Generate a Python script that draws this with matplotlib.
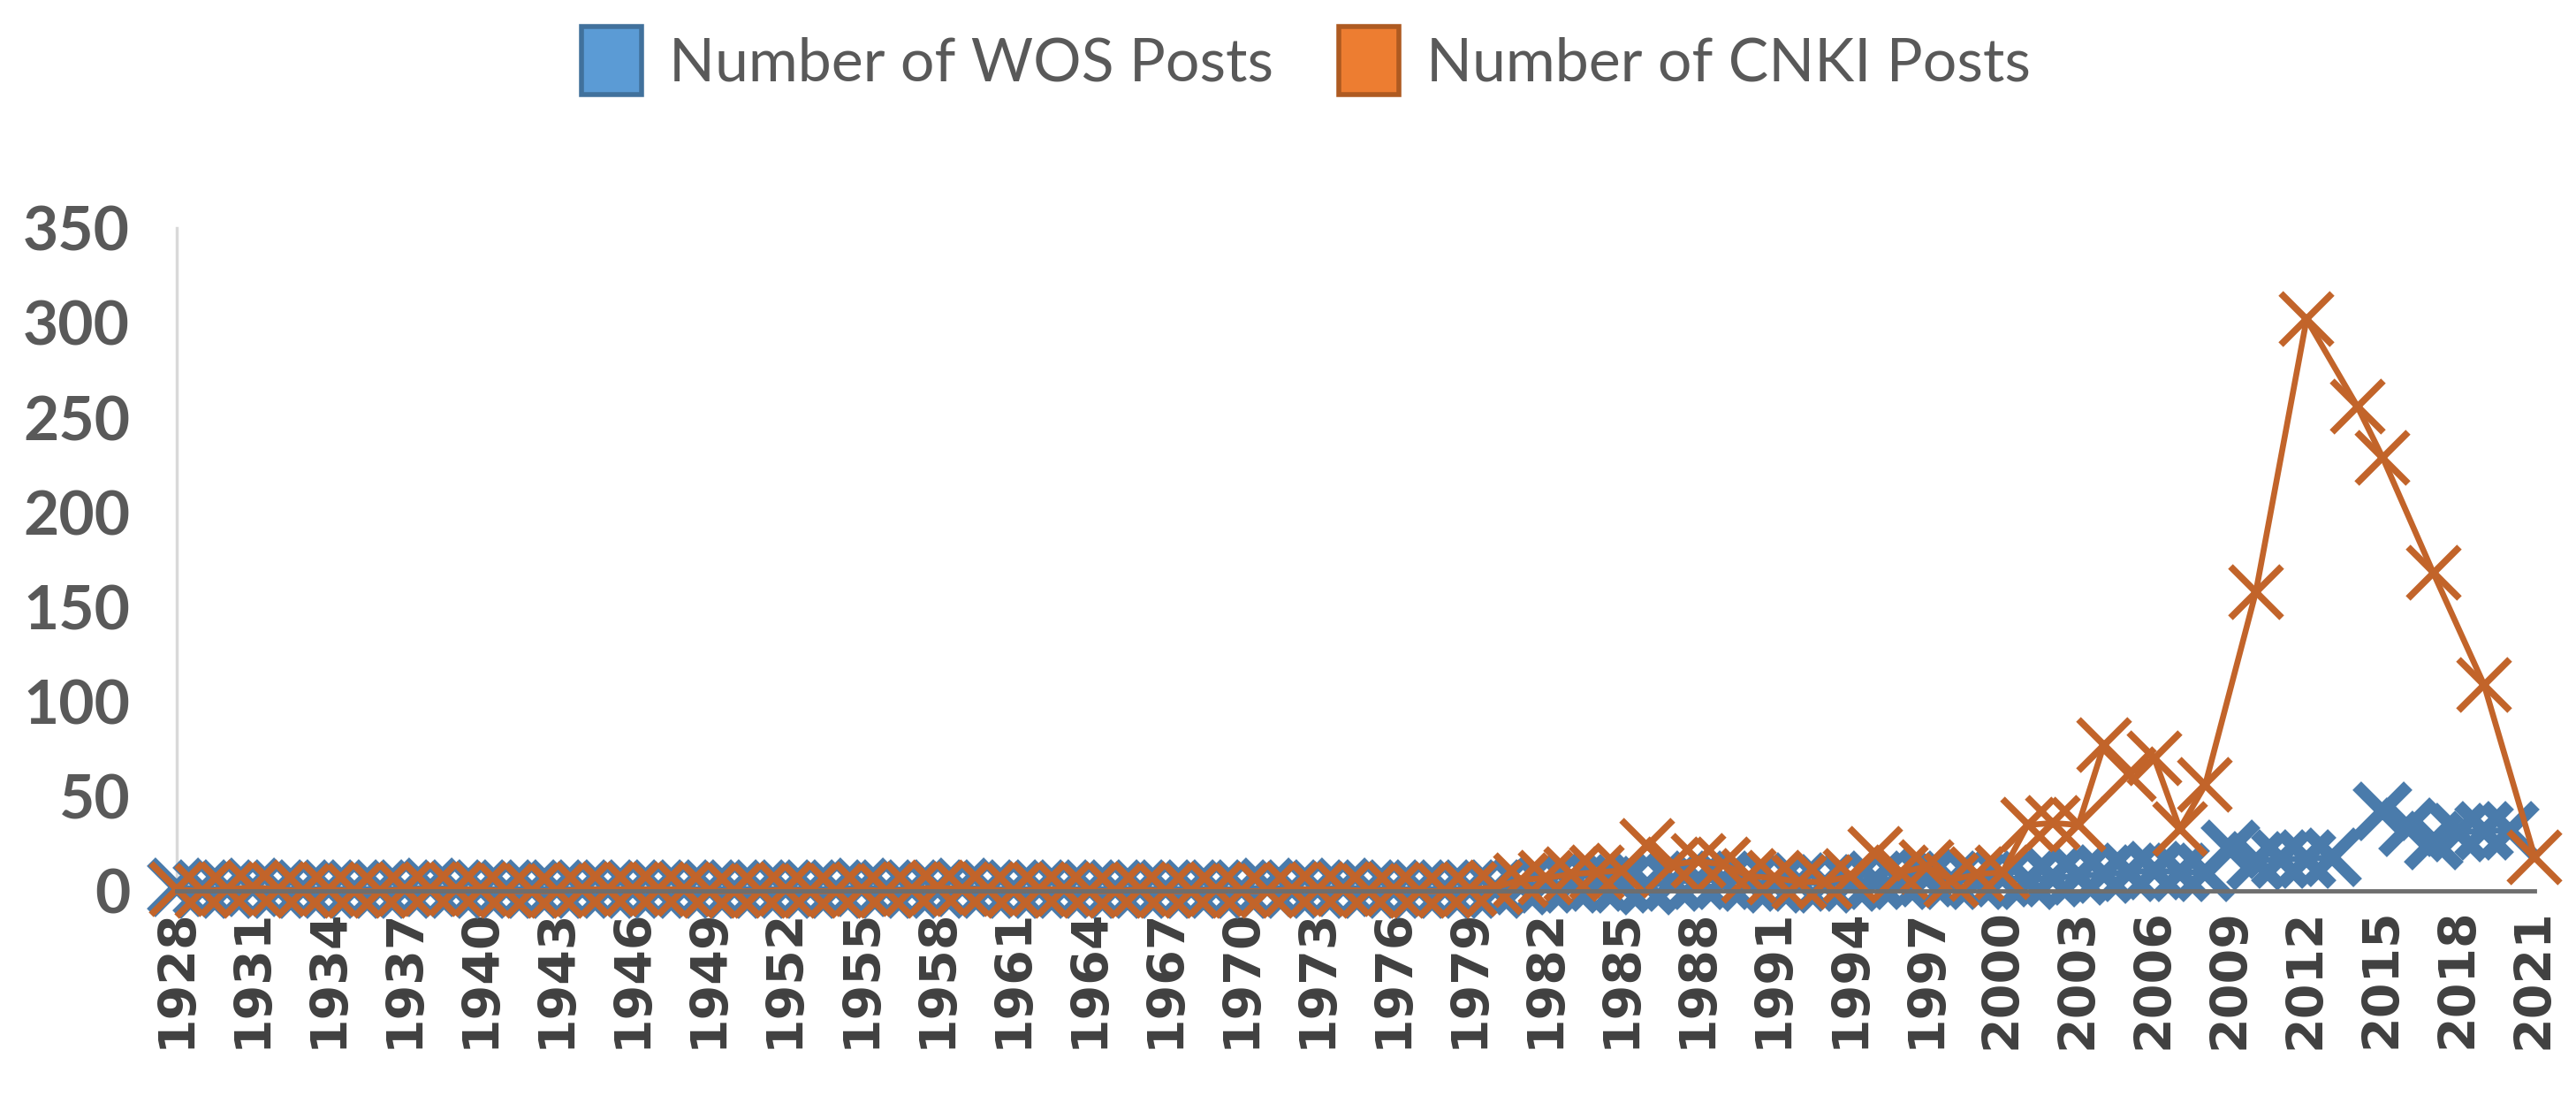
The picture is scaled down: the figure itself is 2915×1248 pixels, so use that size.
import matplotlib
matplotlib.use("Agg")
import matplotlib.pyplot as plt
from matplotlib.patches import Patch

# categories (one per year) and the two series, None = no value that year
years = list(range(1928, 2022))

wos_posts = [
    2, 1, 1, 2, 1, 1, 1, 1, 1, 1,          # 1928-1937
    2, 1, 1, 1, 1, 1, 1, 1, 1, 1,          # 1938-1947
    1, 1, 1, 1, 1, 1, 1, 2, 1, 1,          # 1948-1957
    1, 2, 1, 1, 1, 1, 1, 1, 1, 1,          # 1958-1967
    1, 1, 1, 2, 1, 1, 2, 1, 1, 1,          # 1968-1977
    1, 1, 1,                               # 1978-1980
    3, 4, 4, 5, 4, 3, 5, 6, 6, 5,          # 1981-1990
    4, 5, 4, 5, 6, 6, 7, 6, 6, 7,          # 1991-2000
    6, 7, 8, 9, 10, 11, 10, 10,            # 2001-2008
    22, 16, 17, 17, 18, None, 42, 34, 27, 31, 32, 32, None,  # 2009-2021
]

cnki_posts = [
    1, 0, 1, 2, 1, 0, 1, 0, 0, 1,          # 1928-1937
    1, 1, 1, 0, 0, 0, 1, 1, 1, 1,          # 1938-1947
    1, 0, 0, 0, 1, 0, 0, 1, 0, 1,          # 1948-1957
    2, 1, 1, 0, 1, 1, 0, 0, 1, 0,          # 1958-1967
    0, 1, 0, 0, 1, 1, 1, 0, 1, 0,          # 1968-1977
    0, 1, 2,                               # 1978-1980
    6, 7, 9, 10, 11, 24, 14, 16, 14, 8,    # 1981-1990
    7, 5, 5, 8, 20, 10, 13, 6, 9, 10,      # 1991-2000
    35, 36, 35, 77, 62, 70, 33, 56,        # 2001-2008
    None, 158, None, 302, None, 256, 229, None, 168, None, 109, None, 18,  # 2009-2021
]

series_names = ["Number of WOS Posts", "Number of CNKI Posts"]
y_ticks = [0, 50, 100, 150, 200, 250, 300, 350]
x_tick_years = years[::3]

blue_line = "#4A7BAB"
orange_line = "#C2642A"
blue_fill = "#5B9BD5"
orange_fill = "#ED7D31"


def points(values):
    # Excel joins the points across empty cells, so just drop them
    xs = [y for y, v in zip(years, values) if v is not None]
    vs = [v for v in values if v is not None]
    return xs, vs


fig = plt.figure(figsize=(29.15, 12.48), dpi=100)
ax = fig.add_axes([0.0686, 0.192, 0.9154, 0.601])

wx, wv = points(wos_posts)
cx, cv = points(cnki_posts)
ax.plot(wx, wv, color=blue_line, lw=5, marker="x", markersize=42,
        markeredgewidth=10, clip_on=False, zorder=3)
ax.plot(cx, cv, color=orange_line, lw=4.8, marker="x", markersize=42,
        markeredgewidth=5.5, clip_on=False, zorder=4)

ax.set_xlim(1928, 2021)
ax.set_ylim(0, 350)

ax.set_yticks(y_ticks)
ax.set_yticklabels([str(t) for t in y_ticks], fontsize=50, fontweight="bold",
                   color="#595959", family="Lato")
ax.set_xticks(x_tick_years)
ax.set_xticklabels([str(y) for y in x_tick_years], rotation=90, fontsize=41,
                   fontweight="bold", color="#404040", family="DejaVu Sans")
ax.tick_params(axis="y", length=0, pad=38)
ax.tick_params(axis="x", length=0, pad=14)

for side in ["top", "right"]:
    ax.spines[side].set_visible(False)
ax.spines["left"].set_color("#D9D9D9")
ax.spines["left"].set_linewidth(2.5)
ax.spines["bottom"].set_color("#6E6E6E")
ax.spines["bottom"].set_linewidth(3.5)
ax.spines["bottom"].set_zorder(5)

handles = [
    Patch(facecolor=blue_fill, edgecolor="#41719C", linewidth=4),
    Patch(facecolor=orange_fill, edgecolor="#AE5A21", linewidth=4),
]
leg = fig.legend(handles, series_names, loc="center", bbox_to_anchor=(0.507, 0.945),
                 ncol=2, frameon=False, handlelength=1.0, handleheight=1.35,
                 handletextpad=0.45, columnspacing=1.1,
                 prop={"family": "Lato", "size": 49})
for t in leg.get_texts():
    t.set_color("#595959")

fig.savefig("out.png", dpi=100)
